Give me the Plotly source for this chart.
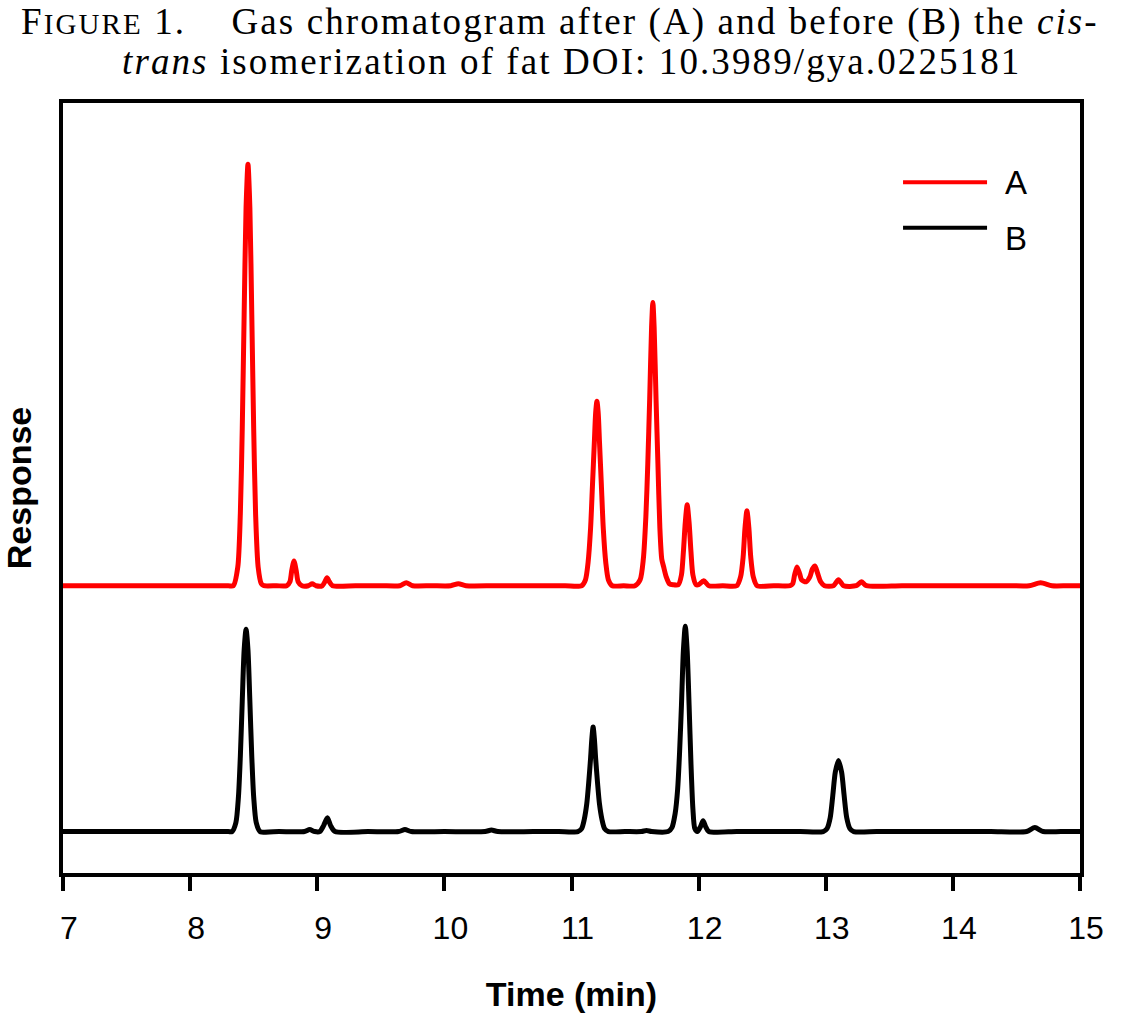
import plotly.graph_objects as go

# ---------------- data ----------------
time_a = [7.00, 7.40, 7.90, 8.30, 8.34, 8.375, 8.395, 8.41, 8.425, 8.44, 8.455, 8.47, 8.485, 8.50, 8.515, 8.535, 8.56, 8.58,
          8.68, 8.76, 8.785, 8.80, 8.817, 8.835, 8.85, 8.88, 8.93, 8.96, 8.99,
          9.04, 9.06, 9.077, 9.095, 9.12, 9.30, 9.50, 9.65, 9.70, 9.75, 9.90, 10.05, 10.11, 10.17,
          10.40, 10.70, 10.95, 11.08, 11.11, 11.13, 11.15, 11.165, 11.18, 11.19, 11.20, 11.21, 11.22, 11.235, 11.25,
          11.27, 11.29, 11.32, 11.41,
          11.50, 11.54, 11.565, 11.585, 11.60, 11.615, 11.63, 11.64, 11.65, 11.665, 11.68, 11.695, 11.71, 11.725,
          11.745, 11.77, 11.80,
          11.84, 11.865, 11.88, 11.895, 11.91, 11.925, 11.94, 11.955, 11.98, 12.00, 12.04, 12.08, 12.19,
          12.30, 12.33, 12.35, 12.365, 12.38, 12.395, 12.41, 12.43, 12.46, 12.59,
          12.72, 12.74, 12.755, 12.774, 12.795, 12.81, 12.845, 12.875, 12.895, 12.915, 12.935, 12.96, 12.99,
          13.06, 13.10, 13.14, 13.24, 13.28, 13.32, 13.60, 13.90, 14.20, 14.45, 14.60, 14.69, 14.78, 14.90, 15.00]
resp_a = [291, 291, 291, 291, 291, 310, 364, 450, 566, 674, 718, 674, 566, 450, 364, 310, 293, 291,
          291, 291, 295, 307, 316, 306, 295, 291, 291, 293, 291,
          291, 295, 299, 295, 291, 291, 291, 291, 294, 291, 291, 291, 293, 291,
          291, 291, 291, 291, 297, 314, 349, 393, 437, 466, 478, 466, 437, 393, 349,
          314, 297, 291, 291,
          291, 297, 318, 361, 414, 480, 553, 578, 553, 480, 414, 350, 318, 310,
          300, 293, 292,
          292, 302, 325, 355, 373, 355, 325, 302, 292, 292, 296, 291, 291,
          291, 300, 320, 350, 367, 350, 320, 300, 291, 291,
          291, 293, 302, 310, 303, 297, 295, 300, 308, 311, 304, 295, 291,
          291, 297, 291, 291, 295, 291, 291, 291, 291, 291, 291, 294, 291, 291, 291]

time_b = [7.00, 7.50, 7.90, 8.30, 8.33, 8.36, 8.38, 8.395, 8.41, 8.425, 8.44, 8.455, 8.47, 8.485, 8.50, 8.52, 8.55,
          8.70, 8.90, 8.94, 8.98, 9.02, 9.05, 9.08, 9.105, 9.14, 9.40, 9.64, 9.69, 9.74, 10.00, 10.32, 10.37, 10.42,
          10.70, 10.90, 11.05, 11.08, 11.10, 11.12, 11.135, 11.15, 11.16, 11.17, 11.18, 11.19, 11.205, 11.22, 11.24,
          11.26, 11.29, 11.42,
          11.55, 11.59, 11.63,
          11.76, 11.79, 11.815, 11.835, 11.85, 11.865, 11.88, 11.895, 11.91, 11.925, 11.94, 11.955, 11.97, 11.99,
          12.015, 12.035, 12.055, 12.08, 12.30, 12.55, 12.80,
          12.98, 13.01, 13.035, 13.055, 13.075, 13.10, 13.125, 13.145, 13.165, 13.19, 13.22,
          13.40, 13.70, 14.00, 14.30, 14.58, 14.645, 14.71, 14.85, 15.00]
resp_b = [42, 42, 42, 42, 42, 51, 77, 118, 174, 226, 247, 226, 174, 118, 77, 51, 42,
          42, 42, 44, 42, 42, 48, 56, 48, 42, 42, 42, 44, 42, 42, 42, 43.5, 42,
          42, 42, 42, 45, 54, 70, 91, 116, 136, 148, 136, 116, 91, 70, 54,
          45, 42, 42,
          42, 43, 42,
          42, 46, 60, 85, 122, 170, 225, 250, 225, 170, 110, 65, 45, 42,
          47, 53, 47, 42, 42, 42, 42,
          42, 45, 56, 78, 102, 114, 102, 78, 56, 45, 42,
          42, 42, 42, 42, 42, 46, 42, 42, 42]

series_names = ["A", "B"]
series_colors = ["#ff0000", "#000000"]
x_ticks = [7, 8, 9, 10, 11, 12, 13, 14, 15]

# ---------------- figure ----------------
fig = go.Figure()
for name, tx, ry, col in [(series_names[0], time_a, resp_a, series_colors[0]),
                          (series_names[1], time_b, resp_b, series_colors[1])]:
    fig.add_trace(go.Scatter(x=tx, y=ry, mode="lines", name=name,
                             line=dict(color=col, width=5, shape="spline", smoothing=0.7),
                             showlegend=False))

sans = "Liberation Sans, Arial, sans-serif"
serif = "Liberation Serif, Times New Roman, serif"

fig.update_layout(
    width=1143, height=1020,
    margin=dict(l=63, r=63, t=103, b=137),
    paper_bgcolor="white", plot_bgcolor="white",
    font=dict(family=sans, color="black"),
    xaxis=dict(range=[7, 15], tickvals=x_ticks, ticktext=[str(v) for v in x_ticks],
               showgrid=False, zeroline=False, showline=True, linecolor="black", linewidth=3.5,
               mirror=True, ticks="outside", ticklen=14, tickwidth=3.5, tickcolor="black",
               tickfont=dict(size=32, family=sans), ticklabelstandoff=10, ticklabelshift=6,
               title=dict(text="<b>Time (min)</b>", font=dict(size=34, family=sans), standoff=38)),
    yaxis=dict(range=[0, 780], showgrid=False, zeroline=False, showline=True, linecolor="black",
               linewidth=3.5, mirror=True, showticklabels=False, ticks="",
               title=dict(text="<b>Response</b>", font=dict(size=34, family=sans), standoff=20)),
)

# manual legend
leg = [(0.897, 0.897), (0.838, 0.824)]
for (ly, ty), name, col in zip(leg, series_names, series_colors):
    fig.add_shape(type="line", xref="paper", yref="paper", x0=0.826, x1=0.9086, y0=ly, y1=ly,
                  line=dict(color=col, width=4))
    fig.add_annotation(xref="paper", yref="paper", x=0.924, y=ty, text=name, showarrow=False,
                       xanchor="left", yanchor="middle", font=dict(size=33, family=sans, color="black"))

# title (two lines)
fig.add_annotation(xref="paper", yref="paper", x=0.4887, y=1.1051, xanchor="center", yanchor="middle",
                   showarrow=False,
                   text="<span style='letter-spacing:2.1px'>F<span style='font-size:29px'>IGURE</span> 1.&nbsp;&nbsp;&nbsp;&nbsp;Gas chromatogram after (A) and before (B) the <i>cis</i>-</span>",
                   font=dict(size=37, family=serif, color="black"))
fig.add_annotation(xref="paper", yref="paper", x=0.5, y=1.0538, xanchor="center", yanchor="middle",
                   showarrow=False,
                   text="<span style='letter-spacing:2.1px'><i>trans</i> isomerization of fat DOI: 10.3989/gya.0225181</span>",
                   font=dict(size=37, family=serif, color="black"))

fig.write_html("out.html", config={"displayModeBar": False},
               post_script="document.body.style.margin='0px';")
